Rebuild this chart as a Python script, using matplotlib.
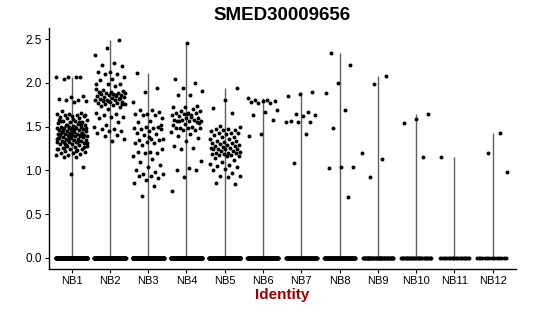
import numpy as np
import matplotlib
matplotlib.use("Agg")
import matplotlib.pyplot as plt

plt.rcParams['font.family'] = ['Liberation Sans', 'DejaVu Sans']

categories = ["NB1", "NB2", "NB3", "NB4", "NB5", "NB6", "NB7", "NB8", "NB9", "NB10", "NB11", "NB12"]

nb1 = [2.07, 2.07, 2.07, 2.07, 2.05, 1.85, 1.84, 1.82, 1.80, 1.80, 1.79, 1.78, 1.68, 1.66, 1.65,
       1.64, 1.63, 1.63, 1.62, 1.62, 1.61, 1.60, 1.60, 1.58, 1.57, 1.56, 1.55, 1.55, 1.54, 1.53,
       1.52, 1.52, 1.51, 1.50, 1.50, 1.50, 1.49, 1.48, 1.48, 1.47, 1.47, 1.46, 1.46, 1.45, 1.45,
       1.44, 1.44, 1.43, 1.43, 1.42, 1.42, 1.42, 1.41, 1.41, 1.40, 1.40, 1.40, 1.39, 1.39, 1.38,
       1.38, 1.37, 1.37, 1.36, 1.36, 1.35, 1.35, 1.34, 1.34, 1.33, 1.33, 1.32, 1.32, 1.31, 1.30,
       1.30, 1.29, 1.28, 1.28, 1.27, 1.26, 1.25, 1.25, 1.24, 1.23, 1.22, 1.21, 1.20, 1.20, 1.19,
       1.18, 1.17, 1.15, 1.15, 1.04, 0.96, 1.58, 1.55, 1.52, 1.49, 1.47, 1.44, 1.41, 1.38, 1.36,
       1.33, 1.30, 1.27, 1.45, 1.42, 1.39, 1.35, 1.31, 1.50, 1.46, 1.43, 1.40, 1.37, 1.34, 1.29,
       1.63, 1.59, 1.56, 1.53, 1.48, 1.24, 1.22, 1.26]
nb2 = [2.49, 2.40, 2.32, 2.23, 2.21, 2.19, 2.13, 2.13, 2.10, 2.10, 2.07, 2.04, 2.03, 1.99, 1.99,
       1.99, 1.97, 1.92, 1.91, 1.90, 1.90, 1.89, 1.88, 1.88, 1.87, 1.87, 1.86, 1.86, 1.85, 1.85,
       1.84, 1.84, 1.83, 1.82, 1.82, 1.81, 1.80, 1.80, 1.79, 1.78, 1.78, 1.77, 1.77, 1.76, 1.76,
       1.75, 1.74, 1.72, 1.70, 1.66, 1.65, 1.63, 1.61, 1.61, 1.60, 1.55, 1.52, 1.50, 1.47, 1.47,
       1.45, 1.45, 1.43, 1.41, 1.39, 1.36, 1.34, 1.89, 1.83, 1.79, 1.93, 1.86, 1.81, 1.76]
nb3 = [2.11, 1.94, 1.90, 1.78, 1.69, 1.69, 1.67, 1.65, 1.64, 1.63, 1.63, 1.60, 1.56, 1.55, 1.50,
       1.50, 1.49, 1.49, 1.47, 1.47, 1.45, 1.43, 1.42, 1.40, 1.36, 1.36, 1.35, 1.35, 1.33, 1.31,
       1.31, 1.29, 1.24, 1.21, 1.21, 1.20, 1.20, 1.16, 1.13, 1.10, 1.06, 1.04, 1.00, 0.98, 0.96,
       0.96, 0.94, 0.93, 0.91, 0.89, 0.85, 0.82, 0.71, 1.52, 1.38]
nb4 = [2.46, 2.05, 2.00, 1.94, 1.91, 1.86, 1.86, 1.74, 1.72, 1.72, 1.70, 1.68, 1.68, 1.66, 1.66,
       1.66, 1.65, 1.63, 1.63, 1.62, 1.60, 1.60, 1.58, 1.58, 1.58, 1.56, 1.56, 1.56, 1.55, 1.53,
       1.52, 1.50, 1.48, 1.48, 1.48, 1.48, 1.46, 1.46, 1.44, 1.42, 1.39, 1.37, 1.34, 1.28, 1.26,
       1.24, 1.11, 1.03, 1.00, 1.00, 0.92, 0.76, 1.61, 1.57, 1.54, 1.64]
nb5 = [1.94, 1.80, 1.71, 1.66, 1.51, 1.50, 1.47, 1.47, 1.46, 1.46, 1.45, 1.43, 1.43, 1.43, 1.42,
       1.40, 1.38, 1.38, 1.36, 1.36, 1.34, 1.34, 1.32, 1.31, 1.31, 1.30, 1.29, 1.29, 1.28, 1.28,
       1.27, 1.26, 1.26, 1.25, 1.25, 1.24, 1.24, 1.22, 1.22, 1.21, 1.20, 1.20, 1.20, 1.19, 1.19,
       1.18, 1.18, 1.16, 1.16, 1.14, 1.12, 1.10, 1.07, 1.06, 1.05, 1.04, 1.01, 1.00, 0.97, 0.94,
       0.94, 0.92, 0.86, 0.84]
nb6 = [1.83, 1.80, 1.80, 1.79, 1.79, 1.78, 1.77, 1.77, 1.69, 1.67, 1.63, 1.58, 1.42, 1.39]
nb7 = [1.90, 1.87, 1.85, 1.67, 1.65, 1.63, 1.62, 1.57, 1.55, 1.55, 1.55, 1.42, 1.08]
nb8 = [2.34, 2.20, 2.00, 1.89, 1.69, 1.48, 1.04, 1.04, 1.03, 0.70]
nb9 = [2.08, 1.99, 1.20, 1.13, 0.92]
nb10 = [1.64, 1.59, 1.54, 1.15]
nb11 = [1.15]
nb12 = [1.43, 1.20, 0.98]
nonzero = [nb1, nb2, nb3, nb4, nb5, nb6, nb7, nb8, nb9, nb10, nb11, nb12]
zero_counts = [320, 300, 300, 300, 300, 120, 90, 90, 45, 30, 20, 14]

yticks = [0.0, 0.5, 1.0, 1.5, 2.0, 2.5]
title = "SMED30009656"
xlabel = "Identity"

fig = plt.figure(figsize=(5.5, 3.16), dpi=100)
ax = fig.add_axes([0.0885, 0.1497, 0.8491, 0.7607])

phi = 0.6180339887
for i, (vals, nz) in enumerate(zip(nonzero, zero_counts)):
    pos = i + 1
    allv = np.concatenate([np.zeros(nz), np.array(vals)])
    k = np.arange(len(allv))
    off = ((k * phi + 0.37 * i) % 1.0 - 0.5) * 0.82
    ax.vlines(pos, 0, max(vals), color='#606060', lw=1.0, zorder=1)
    ax.scatter(pos + off, allv, s=8, c='black', linewidths=0, zorder=2)

ax.set_xlim(0.4, 12.6)
ax.set_ylim(-0.125, 2.625)
ax.set_xticks(range(1, len(categories) + 1))
ax.set_xticklabels(categories, fontsize=8)
ax.set_yticks(yticks)
ax.set_yticklabels([f"{v:.1f}" for v in yticks], fontsize=8.5)
ax.tick_params(length=3, width=0.8, color='black', labelcolor='black', pad=2)
for s in ['top', 'right']:
    ax.spines[s].set_visible(False)
for s in ['left', 'bottom']:
    ax.spines[s].set_linewidth(1.0)
ax.set_title(title, fontsize=13.5, fontweight='bold', pad=6)
ax.set_xlabel(xlabel, fontsize=11, fontweight='bold', color='#990000', labelpad=2)

fig.savefig("out.png", dpi=100)
